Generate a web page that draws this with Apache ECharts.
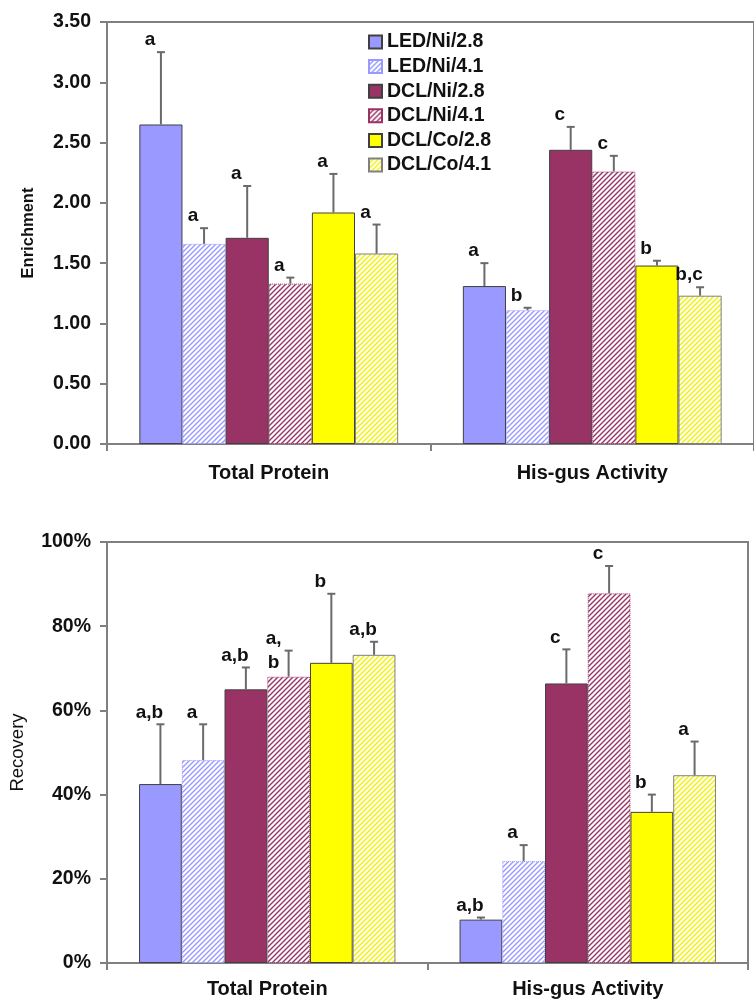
<!DOCTYPE html>
<html>
<head>
<meta charset="utf-8">
<script src="https://cdn.jsdelivr.net/npm/echarts@6/dist/echarts.min.js"></script>
<style>html,body{margin:0;padding:0;background:#fff;}#c{width:754px;height:1001px;}</style>
</head>
<body>
<div id="c"></div>
<script>
// ---- data ----
const categories = ['Total Protein', 'His-gus Activity'];
const seriesNames = ['LED/Ni/2.8', 'LED/Ni/4.1', 'DCL/Ni/2.8', 'DCL/Ni/4.1', 'DCL/Co/2.8', 'DCL/Co/4.1'];

const enrichLEDNi28 = [2.65, 1.31];
const enrichLEDNi41 = [1.66, 1.11];
const enrichDCLNi28 = [1.71, 2.44];
const enrichDCLNi41 = [1.33, 2.26];
const enrichDCLCo28 = [1.92, 1.48];
const enrichDCLCo41 = [1.58, 1.23];

const enrichErrLEDNi28 = [0.60, 0.19];
const enrichErrLEDNi41 = [0.13, 0.02];
const enrichErrDCLNi28 = [0.43, 0.19];
const enrichErrDCLNi41 = [0.05, 0.13];
const enrichErrDCLCo28 = [0.32, 0.04];
const enrichErrDCLCo41 = [0.24, 0.07];

const enrichLblLEDNi28 = ['a', 'a'];
const enrichLblLEDNi41 = ['a', 'b'];
const enrichLblDCLNi28 = ['a', 'c'];
const enrichLblDCLNi41 = ['a', 'c'];
const enrichLblDCLCo28 = ['a', 'b'];
const enrichLblDCLCo41 = ['a', 'b,c'];

const recLEDNi28 = [42.5, 10.3];
const recLEDNi41 = [48.2, 24.2];
const recDCLNi28 = [65.0, 66.4];
const recDCLNi41 = [68.0, 87.8];
const recDCLCo28 = [71.3, 35.9];
const recDCLCo41 = [73.2, 44.6];

const recErrLEDNi28 = [14.2, 0.5];
const recErrLEDNi41 = [8.5, 3.8];
const recErrDCLNi28 = [5.2, 8.1];
const recErrDCLNi41 = [6.2, 6.5];
const recErrDCLCo28 = [16.4, 4.1];
const recErrDCLCo41 = [3.1, 8.0];

const recLblLEDNi28 = ['a,b', 'a,b'];
const recLblLEDNi41 = ['a', 'a'];
const recLblDCLNi28 = ['a,b', 'c'];
const recLblDCLNi41 = ['a,\nb', 'c'];
const recLblDCLCo28 = ['b', 'b'];
const recLblDCLCo41 = ['a,b', 'a'];

const enrichTicks = ['0.00', '0.50', '1.00', '1.50', '2.00', '2.50', '3.00', '3.50'];
const recTicks = ['0%', '20%', '40%', '60%', '80%', '100%'];

// ---- build ----
const enrichVals = [enrichLEDNi28, enrichLEDNi41, enrichDCLNi28, enrichDCLNi41, enrichDCLCo28, enrichDCLCo41];
const enrichErrs = [enrichErrLEDNi28, enrichErrLEDNi41, enrichErrDCLNi28, enrichErrDCLNi41, enrichErrDCLCo28, enrichErrDCLCo41];
const enrichLbls = [enrichLblLEDNi28, enrichLblLEDNi41, enrichLblDCLNi28, enrichLblDCLNi41, enrichLblDCLCo28, enrichLblDCLCo41];
const recVals = [recLEDNi28, recLEDNi41, recDCLNi28, recDCLNi41, recDCLCo28, recDCLCo41];
const recErrs = [recErrLEDNi28, recErrLEDNi41, recErrDCLNi28, recErrDCLNi41, recErrDCLCo28, recErrDCLCo41];
const recLbls = [recLblLEDNi28, recLblLEDNi41, recLblDCLNi28, recLblDCLNi41, recLblDCLCo28, recLblDCLCo41];

const FONT = '"Liberation Sans", Arial, sans-serif';
const BLUE = '#9999ff', MAROON = '#993366', YELLOW = '#ffff00';

function hatch(color) {
  const s = 5;
  const c = document.createElement('canvas');
  c.width = s; c.height = s;
  const g = c.getContext('2d');
  g.fillStyle = '#ffffff'; g.fillRect(0, 0, s, s);
  g.strokeStyle = color; g.lineWidth = 1.4;
  g.beginPath();
  g.moveTo(0, s); g.lineTo(s, 0);
  g.moveTo(-1, 1); g.lineTo(1, -1);
  g.moveTo(s - 1, s + 1); g.lineTo(s + 1, s - 1);
  g.stroke();
  return { image: c, repeat: 'repeat' };
}

const styles = [
  { color: BLUE, borderColor: '#404040', borderWidth: 1 },
  { color: hatch(BLUE), borderColor: BLUE, borderWidth: 1, borderType: 'dotted' },
  { color: MAROON, borderColor: '#404040', borderWidth: 1 },
  { color: hatch(MAROON), borderColor: MAROON, borderWidth: 1, borderType: 'dotted' },
  { color: YELLOW, borderColor: '#404040', borderWidth: 1 },
  { color: hatch('#f2f200'), borderColor: '#808080', borderWidth: 1 }
];

const series = [];
[enrichVals, recVals].forEach((vals, gi) => {
  vals.forEach((v, si) => {
    series.push({
      type: 'bar', name: seriesNames[si], xAxisIndex: gi, yAxisIndex: gi,
      data: v, barGap: '0%', barCategoryGap: '20%', itemStyle: styles[si],
      emphasis: { disabled: true }, z: 2
    });
  });
});

function errData(vals, errs, lbls) {
  const d = [];
  vals.forEach((v, si) => v.forEach((val, ci) => d.push({ value: [ci, si, val, errs[si][ci]], lbl: lbls[si][ci] })));
  return d;
}

function makeRender(data) {
  return function (params, api) {
    const ci = api.value(0), si = api.value(1), v = api.value(2), e = api.value(3);
    const catW = api.size([1, 0])[0];
    const base = api.coord([ci, v]);
    const barW = catW * 0.8 / 6;
    const x = base[0] - catW * 0.4 + barW * (si + 0.5);
    const yTop = base[1];
    const yErr = api.coord([ci, v + e])[1];
    const lbl = data[params.dataIndex].lbl;
    const multi = lbl.indexOf('\n') >= 0;
    return {
      type: 'group',
      children: [
        { type: 'line', shape: { x1: x, y1: yTop, x2: x, y2: yErr }, style: { stroke: '#6a6a6a', lineWidth: 2 } },
        { type: 'line', shape: { x1: x - 4, y1: yErr, x2: x + 4, y2: yErr }, style: { stroke: '#6a6a6a', lineWidth: 2 } },
        { type: 'text', x: multi ? x - 15 : x - 11, y: multi ? yErr : yErr - 12,
          style: { text: lbl, fill: '#111', font: 'bold 19px ' + FONT, align: 'center', verticalAlign: 'middle', lineHeight: 24 } }
      ]
    };
  };
}

const eData = errData(enrichVals, enrichErrs, enrichLbls);
const rData = errData(recVals, recErrs, recLbls);
series.push({ type: 'custom', name: 'errE', xAxisIndex: 0, yAxisIndex: 0, data: eData, renderItem: makeRender(eData), z: 5, silent: true, clip: false });
series.push({ type: 'custom', name: 'errR', xAxisIndex: 1, yAxisIndex: 1, data: rData, renderItem: makeRender(rData), z: 5, silent: true, clip: false });

const axisLine = { show: true, lineStyle: { color: '#808080', width: 2 } };
const axisTick = { show: true, length: 7, lineStyle: { color: '#808080', width: 2 } };

const option = {
  animation: false,
  backgroundColor: '#ffffff',
  textStyle: { fontFamily: FONT },
  legend: {
    data: seriesNames.map(n => ({ name: n, icon: 'rect' })), orient: 'vertical', left: 363, top: 27,
    itemWidth: 13, itemHeight: 13, itemGap: 4.6,
    textStyle: { fontFamily: FONT, fontWeight: 'bold', fontSize: 19.5, color: '#111', lineHeight: 18 },
    selectedMode: false
  },
  grid: [
    { left: 107, top: 22, width: 656, height: 422, show: true, borderColor: '#808080', borderWidth: 2, containLabel: false },
    { left: 107, top: 542, width: 641, height: 421, show: true, borderColor: '#808080', borderWidth: 2, containLabel: false }
  ],
  xAxis: [0, 1].map(i => ({
    type: 'category', gridIndex: i, data: categories,
    axisLine: axisLine, axisTick: Object.assign({ alignWithLabel: false }, axisTick),
    axisLabel: { fontFamily: FONT, fontWeight: 'bold', fontSize: 20, color: '#111', margin: i === 0 ? 19 : 16 },
    splitLine: { show: false }
  })),
  yAxis: [
    {
      type: 'value', gridIndex: 0, min: 0, max: 3.5, interval: 0.5,
      name: 'Enrichment', nameLocation: 'middle', nameGap: 70, nameRotate: 90,
      nameTextStyle: { fontFamily: FONT, fontWeight: 'bold', fontSize: 16.5, color: '#111' },
      axisLine: axisLine, axisTick: axisTick,
      axisLabel: { fontFamily: FONT, fontWeight: 'bold', fontSize: 19.5, color: '#111', margin: 16,
        formatter: (v) => enrichTicks[Math.round(v / 0.5)] },
      splitLine: { show: false }
    },
    {
      type: 'value', gridIndex: 1, min: 0, max: 100, interval: 20,
      name: 'Recovery', nameLocation: 'middle', nameGap: 80, nameRotate: 90,
      nameTextStyle: { fontFamily: FONT, fontWeight: 'normal', fontSize: 18.5, color: '#111' },
      axisLine: axisLine, axisTick: axisTick,
      axisLabel: { fontFamily: FONT, fontWeight: 'bold', fontSize: 19.5, color: '#111', margin: 16,
        formatter: (v) => recTicks[Math.round(v / 20)] },
      splitLine: { show: false }
    }
  ],
  series: series
};

const chart = echarts.init(document.getElementById('c'), null, { renderer: 'canvas' });
chart.setOption(option);
</script>
</body>
</html>
